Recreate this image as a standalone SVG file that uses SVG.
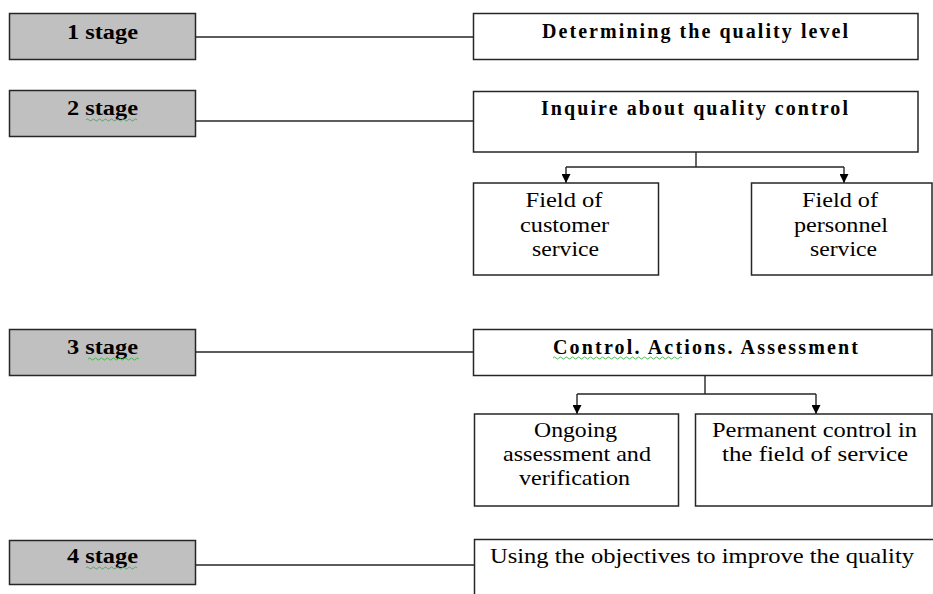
<svg xmlns="http://www.w3.org/2000/svg" width="933" height="594" viewBox="0 0 933 594">
<style>
.stage{fill:#c0c0c0;stroke:#262626;stroke-width:1.5}
.box{fill:#ffffff;stroke:#262626;stroke-width:1.5}
.conn{fill:none;stroke:#262626;stroke-width:1.4}
.hb{font-family:"Liberation Serif","Times New Roman",serif;font-weight:bold;font-size:20px;fill:#000;text-anchor:middle}
.tx{font-family:"Liberation Serif","Times New Roman",serif;font-size:21px;fill:#000;text-anchor:middle}
.sp{fill:none;stroke:#3cb043;stroke-width:0.9}
</style>
<defs>
<marker id="arr" viewBox="0 0 10 10" refX="10" refY="5" markerWidth="10" markerHeight="9" markerUnits="userSpaceOnUse" orient="auto">
<path d="M0,0 L10,5 L0,10 Z" fill="#000"/>
</marker>
</defs>

<g id="connectors">
<line class="conn" x1="196" y1="37" x2="473" y2="37"/>
<line class="conn" x1="196" y1="121" x2="473" y2="121"/>
<line class="conn" x1="196" y1="352" x2="473" y2="352"/>
<line class="conn" x1="196" y1="565" x2="474" y2="565"/>
<path class="conn" d="M696,152 V167 M566,167 H844"/>
<line class="conn" x1="566" y1="167" x2="566" y2="183" marker-end="url(#arr)"/>
<line class="conn" x1="844" y1="167" x2="844" y2="183" marker-end="url(#arr)"/>
<path class="conn" d="M705,376 V394 M577,394 H816"/>
<line class="conn" x1="577" y1="394" x2="577" y2="414" marker-end="url(#arr)"/>
<line class="conn" x1="816" y1="394" x2="816" y2="414" marker-end="url(#arr)"/>
</g>

<g id="stage1">
<rect class="stage" x="9.5" y="13.5" width="186" height="46"/>
<text class="hb" x="102.5" y="39" textLength="71" lengthAdjust="spacingAndGlyphs">1 stage</text>
</g>
<g id="stage2">
<rect class="stage" x="9.5" y="90.5" width="186" height="46"/>
<text class="hb" x="102.5" y="115" textLength="71" lengthAdjust="spacingAndGlyphs">2 stage</text>
<path class="sp" d="M86,120 q1.5,-2 3,0 t3,0 t3,0 t3,0 t3,0 t3,0 t3,0 t3,0 t3,0 t3,0 t3,0 t3,0 t3,0 t3,0 t3,0 t3,0 t3,0"/>
</g>
<g id="stage3">
<rect class="stage" x="9.5" y="329.5" width="186" height="46"/>
<text class="hb" x="102.5" y="354" textLength="71" lengthAdjust="spacingAndGlyphs">3 stage</text>
<path class="sp" d="M88,359 q1.5,-2 3,0 t3,0 t3,0 t3,0 t3,0 t3,0 t3,0 t3,0 t3,0 t3,0 t3,0 t3,0 t3,0 t3,0 t3,0 t3,0 t3,0"/>
</g>
<g id="stage4">
<rect class="stage" x="9.5" y="540.5" width="186" height="44"/>
<text class="hb" x="102.5" y="563" textLength="71" lengthAdjust="spacingAndGlyphs">4 stage</text>
<path class="sp" d="M86,568 q1.5,-2 3,0 t3,0 t3,0 t3,0 t3,0 t3,0 t3,0 t3,0 t3,0 t3,0 t3,0 t3,0 t3,0 t3,0 t3,0 t3,0 t3,0"/>
</g>

<g id="quality-level">
<rect class="box" x="473.5" y="13.5" width="444.5" height="46"/>
<text class="hb" x="695" y="38" textLength="306" lengthAdjust="spacing">Determining the quality level</text>
</g>
<g id="inquire">
<rect class="box" x="473.5" y="91.5" width="444.5" height="60.5"/>
<text class="hb" x="694.5" y="115" textLength="307" lengthAdjust="spacing">Inquire about quality control</text>
</g>
<g id="customer-service">
<rect class="box" x="473.5" y="183" width="185" height="92"/>
<text class="tx" x="564" y="207" textLength="77" lengthAdjust="spacingAndGlyphs">Field of</text>
<text class="tx" x="564.5" y="232" textLength="89" lengthAdjust="spacingAndGlyphs">customer</text>
<text class="tx" x="565.5" y="256" textLength="67" lengthAdjust="spacingAndGlyphs">service</text>
</g>
<g id="personnel-service">
<rect class="box" x="751.5" y="183" width="180.5" height="92"/>
<text class="tx" x="840" y="207" textLength="76" lengthAdjust="spacingAndGlyphs">Field of</text>
<text class="tx" x="841" y="232" textLength="94" lengthAdjust="spacingAndGlyphs">personnel</text>
<text class="tx" x="843.5" y="256" textLength="67" lengthAdjust="spacingAndGlyphs">service</text>
</g>
<g id="control-actions">
<rect class="box" x="473.5" y="329.5" width="458.5" height="46"/>
<text class="hb" x="705.5" y="354" textLength="305" lengthAdjust="spacing">Control. Actions. Assessment</text>
<path class="sp" d="M553,358 q1.5,-2 3,0 t3,0 t3,0 t3,0 t3,0 t3,0 t3,0 t3,0 t3,0 t3,0 t3,0 t3,0 t3,0 t3,0 t3,0 t3,0 t3,0 t3,0 t3,0 t3,0 t3,0 t3,0 t3,0 t3,0 t3,0 t3,0 t3,0 t3,0 t3,0 t3,0 t3,0 t3,0 t3,0 t3,0 t3,0 t3,0 t3,0 t3,0 t3,0 t3,0 t3,0 t3,0 t3,0"/>
</g>
<g id="ongoing-assessment">
<rect class="box" x="474.5" y="414" width="204" height="92"/>
<text class="tx" x="575.5" y="437" textLength="83" lengthAdjust="spacingAndGlyphs">Ongoing</text>
<text class="tx" x="577" y="461" textLength="148" lengthAdjust="spacingAndGlyphs">assessment and</text>
<text class="tx" x="574.5" y="485" textLength="111" lengthAdjust="spacingAndGlyphs">verification</text>
</g>
<g id="permanent-control">
<rect class="box" x="695.5" y="414" width="236.5" height="92"/>
<text class="tx" x="814.5" y="437" textLength="205" lengthAdjust="spacingAndGlyphs">Permanent control in</text>
<text class="tx" x="815" y="461" textLength="186" lengthAdjust="spacingAndGlyphs">the field of service</text>
</g>
<g id="objectives">
<path class="box" d="M474.5,594 V539.5 H933"/>
<text class="tx" x="490" y="563" style="text-anchor:start" textLength="424" lengthAdjust="spacingAndGlyphs">Using the objectives to improve the quality</text>
</g>
</svg>
